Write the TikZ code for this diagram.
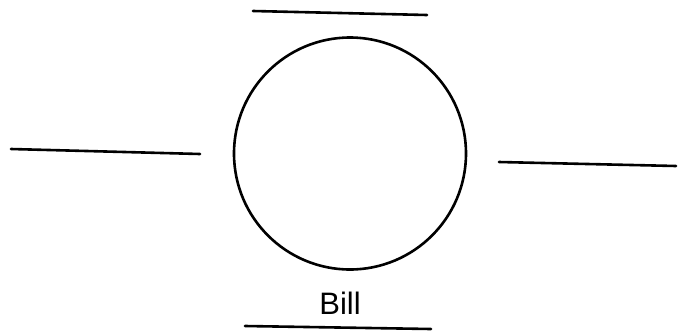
\documentclass[tikz,border=0pt]{standalone}
\usepackage{fontspec}
\setmainfont{Liberation Sans}
\begin{document}
\begin{tikzpicture}[x=1pt,y=-1pt,
  stroke/.style={line width=2.6pt, line cap=round, black},
  lbl/.style={font=\fontsize{31}{31}\selectfont, anchor=base, inner sep=0pt}]
\useasboundingbox (0,0) rectangle (678,333);
\node[circle, draw, line width=2.6pt, minimum size=232pt, inner sep=0pt] (c) at (350,153.5) {};
\coordinate (t1) at (253,11); \coordinate (t2) at (427,15);
\coordinate (l1) at (11,149); \coordinate (l2) at (200,154);
\coordinate (r1) at (499,162); \coordinate (r2) at (676,166);
\coordinate (b1) at (245,326); \coordinate (b2) at (431,329);
\draw[stroke] (t1) -- (t2);
\draw[stroke] (l1) -- (l2);
\draw[stroke] (r1) -- (r2);
\draw[stroke] (b1) -- (b2);
\node[lbl] (bill) at (340,314) {Bill};
\end{tikzpicture}
\end{document}
